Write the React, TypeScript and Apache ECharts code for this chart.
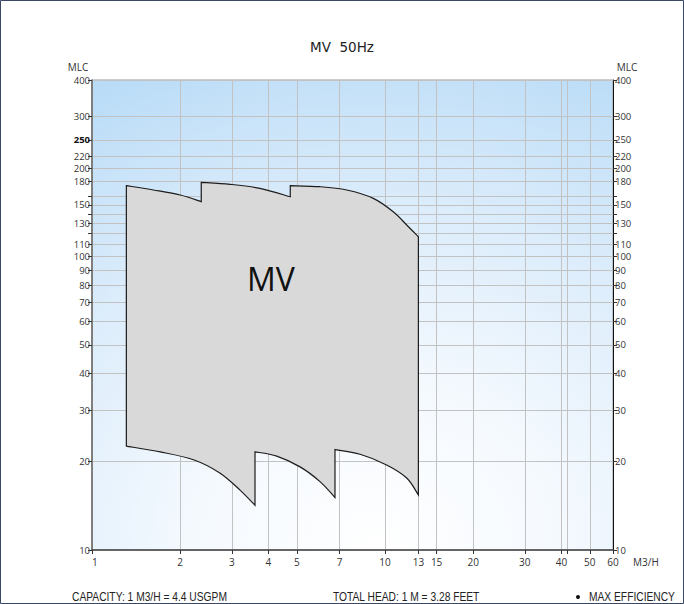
import React, { useEffect, useRef } from "react";
import * as echarts from "echarts";

// Axis ticks and labels
const xTickValues = [1, 2, 3, 4, 5, 7, 10, 13, 15, 20, 30, 40, 42, 50, 60];
const xLabelValues = [1, 2, 3, 4, 5, 7, 10, 13, 15, 20, 30, 40, 50, 60];
const yTickValues = [10, 20, 30, 40, 50, 60, 70, 80, 90, 100, 110, 120, 130, 140, 150, 160, 180, 200, 220, 250, 300, 400];
const yLabelValues = [10, 20, 30, 40, 50, 60, 70, 80, 90, 100, 110, 130, 150, 180, 200, 220, 250, 300, 400];

// MV envelope, upper edge read left to right (m3/h, m)
const upperFlow = [1.31, 1.62, 2.0, 2.36, 2.36, 2.96, 3.74, 4.75, 4.75, 6.0, 7.4, 9.12, 10.67, 11.86, 13.0];
const upperHead = [174.5, 168.7, 162.2, 153.9, 179.2, 176.4, 170.9, 160.0, 174.5, 173.1, 168.7, 158.0, 142.2, 128.2, 116.9];
// lower edge read right to left
const lowerFlow = [13.0, 11.86, 10.13, 8.22, 6.75, 6.75, 6.0, 5.13, 4.27, 3.6, 3.6, 3.2, 2.73, 2.22, 1.71, 1.31];
const lowerHead = [15.4, 17.6, 19.5, 21.2, 22.0, 15.1, 17.1, 19.2, 20.9, 21.6, 14.2, 16.0, 18.3, 20.3, 21.6, 22.6];

const titleText = "MV  50Hz";
const familyLabel = "MV";
const footerTexts = ["CAPACITY: 1 M3/H = 4.4 USGPM", "TOTAL HEAD: 1 M = 3.28 FEET", "MAX EFFICIENCY"];

const labelFont = "'Open Sans', 'Noto Sans', sans-serif";
const footFont = "'Liberation Sans', Arial, sans-serif";

export default function App() {
  const ref = useRef<HTMLDivElement>(null);

  useEffect(() => {
    document.body.style.margin = "0";
    if (!ref.current) return;
    const chart = echarts.init(ref.current, undefined, { renderer: "svg" });

    const envFlow = upperFlow.concat(lowerFlow);
    const envHead = upperHead.concat(lowerHead);
    const envData = envFlow.map((f, i) => [f, envHead[i]]);

    const bg = new echarts.graphic.RadialGradient(0.55, 1, 1.2, [
      { offset: 0, color: "#ffffff" },
      { offset: 0.3, color: "#f4f9fe" },
      { offset: 0.62, color: "#dbecfb" },
      { offset: 1, color: "#b2d8f6" },
    ]);

    const yAxisBase = {
      type: "log",
      logBase: 10,
      min: 10,
      max: 400,
      axisTick: { show: true, customValues: yTickValues, length: 4, inside: false, lineStyle: { color: "#333" } },
      minorTick: { show: false },
    };

    const footText = (x: number, text: string) => ({
      type: "text",
      x,
      y: 597,
      scaleX: 0.82,
      style: { text, fontSize: 12.5, fontFamily: footFont, fill: "#222", textAlign: "left", textVerticalAlign: "middle" },
    });

    const option: any = {
      animation: false,
      title: {
        text: titleText,
        left: "center",
        top: 35,
        textStyle: { fontSize: 13.5, fontWeight: "normal", fontFamily: "'DejaVu Sans', sans-serif", color: "#222" },
      },
      grid: {
        left: 92,
        right: 71,
        top: 80,
        bottom: 54,
        show: true,
        backgroundColor: bg,
        borderColor: "#9a9a9a",
        borderWidth: 1,
      },
      xAxis: {
        type: "log",
        logBase: 10,
        min: 1,
        max: 60,
        axisLine: { show: true, onZero: false, lineStyle: { color: "#444", width: 1.5 } },
        axisTick: { show: true, customValues: xTickValues, length: 4, lineStyle: { color: "#333" } },
        minorTick: { show: false },
        axisLabel: {
          customValues: xLabelValues,
          fontSize: 10,
          fontFamily: labelFont,
          color: "#333",
          margin: 7,
          alignMinLabel: "left",
          showMinLabel: true,
          showMaxLabel: true,
          formatter: (v: number) => String(Math.round(v)),
        },
        splitLine: { show: true, lineStyle: { color: "#c2c2c2", width: 1 } },
      },
      yAxis: [
        {
          ...yAxisBase,
          position: "left",
          axisLine: { show: true, onZero: false, lineStyle: { color: "#666", width: 1.5 } },
          axisLabel: {
            customValues: yLabelValues,
            fontSize: 9.5,
            lineHeight: 10,
            fontFamily: labelFont,
            color: "#333",
            margin: 2,
            showMinLabel: true,
            showMaxLabel: true,
            formatter: (v: number) => {
              const r = Math.round(v);
              return r === 250 ? "{b|250}" : String(r);
            },
            rich: { b: { fontSize: 9.5, lineHeight: 10, fontFamily: labelFont, fontWeight: "bold", color: "#111" } },
          },
          splitLine: { show: true, lineStyle: { color: "#c2c2c2", width: 1 } },
        },
        {
          ...yAxisBase,
          position: "right",
          axisLine: { show: true, onZero: false, lineStyle: { color: "#111", width: 1 } },
          axisLabel: {
            customValues: yLabelValues,
            fontSize: 9.5,
            lineHeight: 10,
            fontFamily: labelFont,
            color: "#333",
            margin: 2,
            showMinLabel: true,
            showMaxLabel: true,
            formatter: (v: number) => String(Math.round(v)),
          },
          splitLine: { show: false },
        },
      ],
      series: [
        {
          type: "custom",
          coordinateSystem: "cartesian2d",
          xAxisIndex: 0,
          yAxisIndex: 0,
          silent: true,
          z: 3,
          data: envData,
          renderItem: (params: any, api: any) => {
            if (params.dataIndex !== 0) return null;
            const pts = envData.map((d) => api.coord(d));
            // split into runs: consecutive points at the same flow are straight (vertical) edges
            const runs: number[][] = [];
            let cur = [0];
            for (let i = 1; i < pts.length; i++) {
              if (Math.abs(pts[i][0] - pts[i - 1][0]) < 1.5) {
                runs.push(cur);
                cur = [i];
              } else cur.push(i);
            }
            runs.push(cur);
            const f = (n: number) => n.toFixed(2);
            let d = `M${f(pts[0][0])},${f(pts[0][1])}`;
            runs.forEach((run, ri) => {
              if (ri > 0) d += ` L${f(pts[run[0]][0])},${f(pts[run[0]][1])}`;
              for (let k = 0; k < run.length - 1; k++) {
                const p0 = pts[run[Math.max(k - 1, 0)]];
                const p1 = pts[run[k]];
                const p2 = pts[run[k + 1]];
                const p3 = pts[run[Math.min(k + 2, run.length - 1)]];
                const c1x = p1[0] + (p2[0] - p0[0]) / 6;
                const c1y = p1[1] + (p2[1] - p0[1]) / 6;
                const c2x = p2[0] - (p3[0] - p1[0]) / 6;
                const c2y = p2[1] - (p3[1] - p1[1]) / 6;
                d += ` C${f(c1x)},${f(c1y)} ${f(c2x)},${f(c2y)} ${f(p2[0])},${f(p2[1])}`;
              }
            });
            d += " Z";
            return {
              type: "path",
              shape: { pathData: d },
              style: { fill: "#d9d9d9", stroke: "#1c1c1c", lineWidth: 1.2, lineJoin: "miter" },
            };
          },
        },
      ],
      graphic: [
        {
          type: "rect",
          silent: true,
          shape: { x: 0.5, y: 0.5, width: 683, height: 603 },
          style: { fill: "none", stroke: "#3a4866", lineWidth: 1 },
          z: 100,
        },
        {
          type: "text",
          x: 271,
          y: 278,
          z: 50,
          style: { text: familyLabel, fontSize: 32, fontFamily: labelFont, fill: "#111", textAlign: "center", textVerticalAlign: "middle" },
        },
        {
          type: "text",
          x: 78,
          y: 67,
          style: { text: "MLC", fontSize: 10, fontFamily: labelFont, fill: "#333", textAlign: "center", textVerticalAlign: "middle" },
        },
        {
          type: "text",
          x: 627,
          y: 67,
          style: { text: "MLC", fontSize: 10, fontFamily: labelFont, fill: "#333", textAlign: "center", textVerticalAlign: "middle" },
        },
        {
          type: "text",
          x: 633,
          y: 562,
          style: { text: "M3/H", fontSize: 10, fontFamily: labelFont, fill: "#333", textAlign: "left", textVerticalAlign: "middle" },
        },
        footText(72, footerTexts[0]),
        footText(333, footerTexts[1]),
        {
          type: "circle",
          shape: { cx: 578, cy: 597, r: 2 },
          style: { fill: "#111" },
        },
        footText(589, footerTexts[2]),
      ],
    };

    chart.setOption(option);
    return () => chart.dispose();
  }, []);

  return <div ref={ref} style={{ width: 684, height: 604 }} />;
}
